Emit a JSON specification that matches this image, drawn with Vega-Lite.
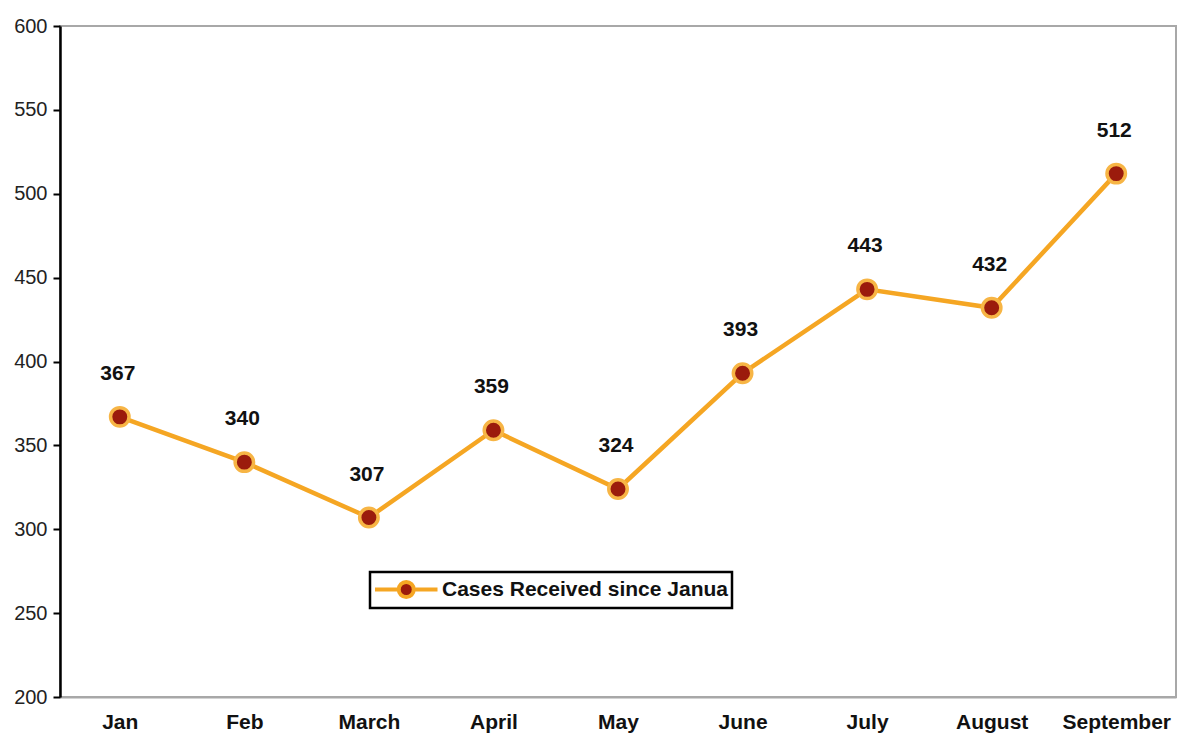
{
  "$schema": "https://vega.github.io/schema/vega-lite/v6.json",
  "autosize": {"type": "none"},
  "width": 1116,
  "height": 671,
  "padding": {"left": 60, "top": 26, "right": 4, "bottom": 37},
  "background": "white",
  "config": {
    "view": {"stroke": "#a8a8a8", "strokeWidth": 2},
    "font": "Liberation Sans"
  },
  "data": {
    "values": [
      {"month": "Jan", "cases": 367, "series": "Cases Received since Janua"},
      {"month": "Feb", "cases": 340, "series": "Cases Received since Janua"},
      {"month": "March", "cases": 307, "series": "Cases Received since Janua"},
      {"month": "April", "cases": 359, "series": "Cases Received since Janua"},
      {"month": "May", "cases": 324, "series": "Cases Received since Janua"},
      {"month": "June", "cases": 393, "series": "Cases Received since Janua"},
      {"month": "July", "cases": 443, "series": "Cases Received since Janua"},
      {"month": "August", "cases": 432, "series": "Cases Received since Janua"},
      {"month": "September", "cases": 512, "series": "Cases Received since Janua"}
    ]
  },
  "encoding": {
    "x": {
      "field": "month", "type": "ordinal", "sort": null,
      "scale": {"type": "point", "padding": 0.48},
      "axis": {
        "title": null, "labelAngle": 0, "ticks": false,
        "domainColor": "#a8a8a8", "domainWidth": 2,
        "labelFont": "Liberation Sans", "labelFontWeight": "bold", "labelFontSize": 21,
        "labelColor": "#111", "labelPadding": 14, "grid": false
      }
    },
    "y": {
      "field": "cases", "type": "quantitative",
      "scale": {"domain": [200, 600], "nice": false, "zero": false},
      "axis": {
        "title": null, "values": [200, 250, 300, 350, 400, 450, 500, 550, 600],
        "grid": false, "domainColor": "#000", "domainWidth": 2.5,
        "tickColor": "#000", "tickWidth": 2, "tickSize": 7,
        "labelFont": "Liberation Sans", "labelFontSize": 20, "labelColor": "#222",
        "labelPadding": 6
      }
    }
  },
  "layer": [
    {
      "mark": {"type": "line", "color": "#f5a623", "strokeWidth": 4.5},
      "encoding": {}
    },
    {
      "mark": {"type": "point", "filled": true, "size": 340, "strokeWidth": 3.5, "stroke": "#f7b545", "fill": "#9b1b0c", "opacity": 1},
      "encoding": {
        "color": {
          "field": "series", "type": "nominal",
          "scale": {"range": ["#9b1b0c"]},
          "legend": {
            "title": null, "orient": "none", "legendX": 310, "legendY": 546,
            "direction": "vertical",
            "symbolType": "M-1,0H0.9M2.1,0H4M2.1,0A0.6,0.6 0 1,1 0.9,0A0.6,0.6 0 1,1 2.1,0Z",
            "symbolSize": 625, "symbolStrokeColor": "#f5a623", "symbolStrokeWidth": 4,
            "symbolFillColor": "#9b1b0c", "symbolOpacity": 1,
            "labelFont": "Liberation Sans", "labelFontWeight": "bold", "labelFontSize": 21,
            "labelColor": "#111", "labelLimit": 400, "labelOffset": 40,
            "strokeColor": "#000", "padding": 3, "fillColor": "white",
            "encode": {
              "legend": {"update": {"strokeWidth": {"value": 2.5}}}
            }
          }
        }
      }
    },
    {
      "mark": {"type": "text", "dx": -2, "dy": -43, "fontWeight": "bold", "fontSize": 21, "font": "Liberation Sans", "color": "#111"},
      "encoding": {"text": {"field": "cases", "type": "quantitative"}}
    }
  ]
}
